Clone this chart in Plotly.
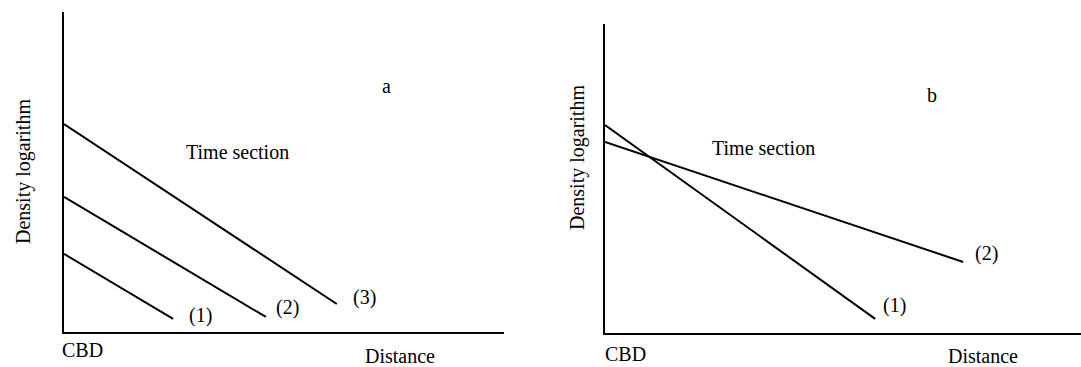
import plotly.graph_objects as go

W, H = 1081, 367

# Panel a: three time sections (start at CBD, end point)
a_names = ["(1)", "(2)", "(3)"]
a_x_start = [0.0, 0.0, 0.0]
a_y_start = [2.44, 4.22, 6.5]
a_x_end = [2.48, 4.59, 6.2]
a_y_end = [0.41, 0.47, 0.875]

# Panel b: two time sections
b_names = ["(1)", "(2)"]
b_x_start = [0.0, 0.0]
b_y_start = [6.5, 5.97]
b_x_end = [6.14, 8.14]
b_y_end = [0.44, 2.22]

FONT = "Liberation Serif"

fig = go.Figure()

for i in range(3):
    fig.add_trace(go.Scatter(x=[a_x_start[i], a_x_end[i]], y=[a_y_start[i], a_y_end[i]],
                             mode="lines", line=dict(color="black", width=2),
                             xaxis="x", yaxis="y", showlegend=False, hoverinfo="skip"))
for i in range(2):
    fig.add_trace(go.Scatter(x=[b_x_start[i], b_x_end[i]], y=[b_y_start[i], b_y_end[i]],
                             mode="lines", line=dict(color="black", width=2),
                             xaxis="x2", yaxis="y2", showlegend=False, hoverinfo="skip"))

def px(x):
    return x / W

def py(y):
    return 1 - y / H

axis_common = dict(showgrid=False, zeroline=False, showticklabels=False, ticks="",
                   showline=True, linecolor="black", linewidth=2, fixedrange=True)

fig.update_layout(
    width=W, height=H,
    margin=dict(l=0, r=0, t=0, b=0),
    paper_bgcolor="white", plot_bgcolor="white",
    font=dict(family=FONT),
    xaxis=dict(domain=[px(64), px(504)], range=[0, (504 - 64) / 44], anchor="y", **axis_common),
    yaxis=dict(domain=[py(332), py(12)], range=[0, (332 - 12) / 32], anchor="x", **axis_common),
    xaxis2=dict(domain=[px(605), 1.0], range=[0, (1081 - 605) / 44], anchor="y2", **axis_common),
    yaxis2=dict(domain=[py(333), py(24)], range=[0, (333 - 24) / 32], anchor="x2", **axis_common),
)

def ann(x, y, text, size=20, angle=0):
    fig.add_annotation(x=px(x), y=py(y), xref="paper", yref="paper", text=text,
                       showarrow=False, textangle=angle, xanchor="center", yanchor="middle",
                       font=dict(family=FONT, size=size, color="black"))

# Panel a texts
ann(23, 172, "Density logarithm", angle=-90)
ann(386, 86, "a")
ann(237, 152, "Time section")
ann(82, 350, "CBD")
ann(400, 356, "Distance")
line_label_pos_a = [(200, 315), (287, 307), (364, 297)]
for name, (lx, ly) in zip(a_names, line_label_pos_a):
    ann(lx, ly, name)

# Panel b texts
ann(578, 158, "Density logarithm", angle=-90)
ann(932, 95, "b")
ann(763, 148, "Time section")
ann(625, 354, "CBD")
ann(983, 356, "Distance")
line_label_pos_b = [(894, 305), (986, 253)]
for name, (lx, ly) in zip(b_names, line_label_pos_b):
    ann(lx, ly, name)

fig.write_html("out.html")
